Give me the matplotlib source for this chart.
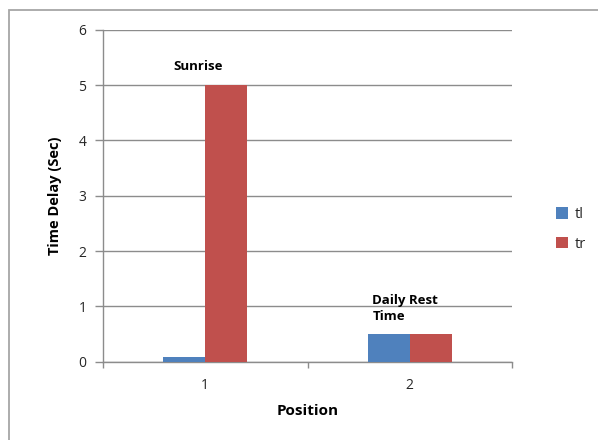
import matplotlib
matplotlib.use("Agg")
import matplotlib.pyplot as plt
from matplotlib.patches import Rectangle
import numpy as np

positions = [1, 2]
tl = [0.08, 0.5]
tr = [5.0, 0.5]
series = ["tl", "tr"]
notes = ["Sunrise", "Daily Rest\nTime"]

BLUE = "#4F81BD"
RED = "#C0504D"
GRID = "#8C8C8C"
TXT = "#262626"

plt.rcParams["font.family"] = ["Open Sans", "DejaVu Sans"]

W, H = 598, 440
fig = plt.figure(figsize=(W / 100, H / 100), dpi=100, facecolor="white")

# outer chart frame (only top and left edges fall inside the image)
fig.patches.append(Rectangle((9 / W, -0.1), 1.2, (H - 10) / H + 0.1,
                             transform=fig.transFigure, fill=False,
                             edgecolor="#A6A6A6", lw=1.3))

ax = fig.add_axes([103 / W, (H - 361.7) / H, (512 - 103) / W, (361.7 - 29.7) / H])
bw = 0.205
x = np.array(positions, dtype=float)
ax.bar(x - bw / 2, tl, bw, color=BLUE, label=series[0], zorder=3)
ax.bar(x + bw / 2, tr, bw, color=RED, label=series[1], zorder=3)

ax.set_xlim(0.5, 2.5)
ax.set_ylim(0, 6)
ax.set_yticks(range(7))
ax.set_xticks(positions)
ax.set_xticks([0.5, 1.5, 2.5], minor=True)
ax.yaxis.grid(True, color=GRID, lw=1.0, zorder=0)
ax.tick_params(axis="y", length=6, color=GRID, width=1.0, labelsize=10,
               labelcolor=TXT, pad=6)
ax.tick_params(axis="x", which="major", length=0, labelsize=10,
               labelcolor=TXT, pad=12)
ax.tick_params(axis="x", which="minor", length=4, color=GRID, width=1.0)
for s in ["top", "right"]:
    ax.spines[s].set_visible(False)
for s in ["left", "bottom"]:
    ax.spines[s].set_color(GRID)
    ax.spines[s].set_linewidth(1.0)

ax.set_ylabel("Time Delay (Sec)", fontsize=10.5, fontweight="bold", color="black",
              labelpad=12)
ax.set_xlabel("Position", fontsize=11, fontweight="bold", color="black",
              labelpad=8)

ax.text(0.963, 5.33, notes[0], ha="center", va="center", fontsize=9.5,
        fontweight="bold", color="black", zorder=5)
ax.text(1.817, 1.22, notes[1], ha="left", va="top", fontsize=9.5,
        fontweight="bold", color="black", linespacing=1.25, zorder=5)

fig.legend(loc="upper left", bbox_to_anchor=(543 / W, (H - 194) / H),
           frameon=False, fontsize=10.5, handlelength=0.8, handleheight=0.8,
           labelspacing=1.0, handletextpad=0.5, labelcolor=TXT)

fig.savefig("out.png", dpi=100, facecolor="white")
